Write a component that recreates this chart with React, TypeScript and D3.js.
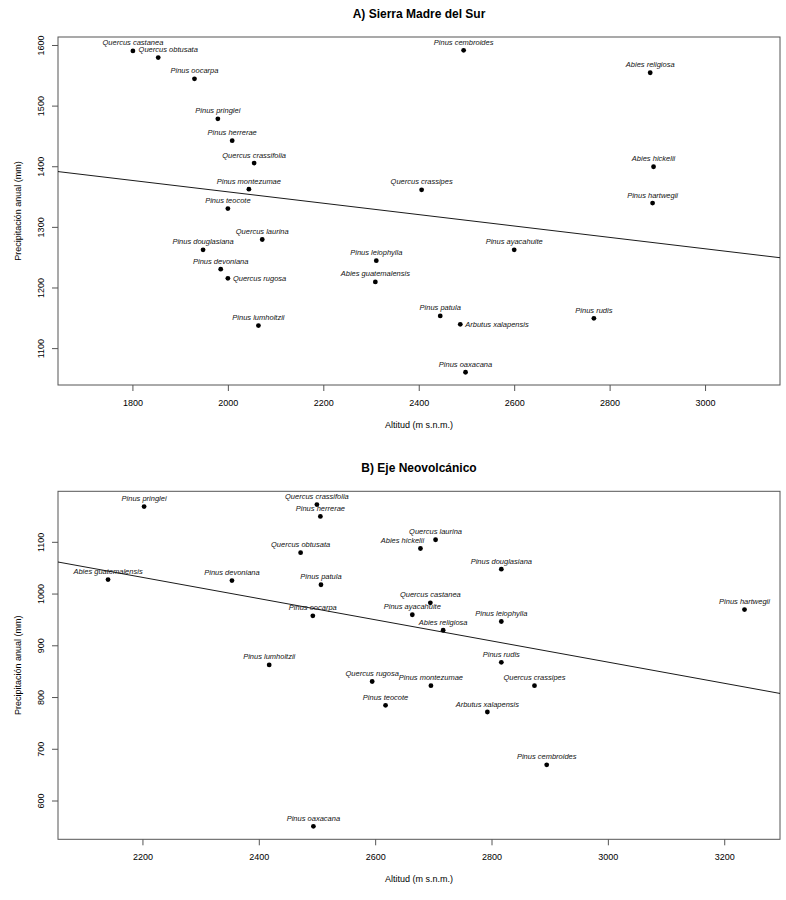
import React from 'react';
import * as d3 from 'd3';

// A) Sierra Madre del Sur
const sierraSpecies = [
  'Quercus castanea', 'Quercus obtusata', 'Pinus oocarpa', 'Pinus pringlei', 'Pinus herrerae',
  'Quercus crassifolia', 'Pinus montezumae', 'Pinus teocote', 'Quercus laurina', 'Pinus douglasiana',
  'Pinus devoniana', 'Quercus rugosa', 'Pinus lumholtzii', 'Pinus leiophylla', 'Abies guatemalensis',
  'Pinus patula', 'Arbutus xalapensis', 'Pinus oaxacana', 'Pinus ayacahuite', 'Pinus rudis',
  'Pinus cembroides', 'Abies religiosa', 'Quercus crassipes', 'Abies hickelii', 'Pinus hartwegii',
];
const sierraAltitud = [
  1800, 1853, 1929, 1978, 2008, 2054, 2043, 1999, 2071, 1947, 1984, 1999, 2063, 2310, 2308,
  2444, 2486, 2497, 2599, 2766, 2493, 2884, 2405, 2891, 2889,
];
const sierraPrecip = [
  1591, 1580, 1545, 1479, 1443, 1406, 1363, 1331, 1280, 1263, 1231, 1216, 1138, 1245, 1210,
  1154, 1140, 1061, 1263, 1150, 1592, 1555, 1362, 1400, 1340,
];
const sierraXTicks = [1800, 2000, 2200, 2400, 2600, 2800, 3000];
const sierraYTicks = [1100, 1200, 1300, 1400, 1500, 1600];
const sierraLm = { intercept: 1546.3, slope: -0.0939 };

// B) Eje Neovolcánico
const ejeSpecies = [
  'Pinus pringlei', 'Quercus crassifolia', 'Pinus herrerae', 'Quercus obtusata', 'Abies guatemalensis',
  'Pinus devoniana', 'Pinus patula', 'Pinus oocarpa', 'Pinus lumholtzii', 'Quercus rugosa',
  'Pinus teocote', 'Pinus oaxacana', 'Quercus laurina', 'Abies hickelii', 'Pinus douglasiana',
  'Quercus castanea', 'Pinus ayacahuite', 'Abies religiosa', 'Pinus leiophylla', 'Pinus rudis',
  'Pinus hartwegii', 'Pinus montezumae', 'Quercus crassipes', 'Arbutus xalapensis', 'Pinus cembroides',
];
const ejeAltitud = [
  2202, 2499, 2505, 2471, 2140, 2353, 2506, 2492, 2417, 2594, 2617, 2493, 2703, 2677, 2816,
  2694, 2663, 2716, 2816, 2816, 3234, 2695, 2873, 2792, 2894,
];
const ejePrecip = [
  1169, 1173, 1150, 1080, 1028, 1026, 1018, 958, 863, 831, 785, 551, 1105, 1088, 1048,
  983, 960, 930, 947, 868, 970, 823, 823, 772, 670,
];
const ejeXTicks = [2200, 2400, 2600, 2800, 3000, 3200];
const ejeYTicks = [600, 700, 800, 900, 1000, 1100];
const ejeLm = { intercept: 1482.4, slope: -0.2047 };

// labels sit above the point unless listed here
const sierraLabelPos: Record<string, { pos: string; dx?: number }> = {
  'Quercus obtusata': { pos: 'top', dx: 10 },
  'Quercus rugosa': { pos: 'right' },
  'Arbutus xalapensis': { pos: 'right' },
};
const ejeLabelPos: Record<string, { pos: string; dx?: number }> = {
  'Abies hickelii': { pos: 'top', dx: -18 },
};

const font = '"Liberation Sans", Arial, sans-serif';

interface PanelProps {
  top: number;
  title: string;
  species: string[];
  altitud: number[];
  precip: number[];
  xDomain: [number, number];
  yDomain: [number, number];
  xTicks: number[];
  yTicks: number[];
  lm: { intercept: number; slope: number };
  labelPos: Record<string, { pos: string; dx?: number }>;
}

const Panel = ({ top, title, species, altitud, precip, xDomain, yDomain, xTicks, yTicks, lm, labelPos }: PanelProps) => {
  const left = 58;
  const right = 780;
  const h = 348;
  const x = d3.scaleLinear().domain(xDomain).range([left, right]);
  const y = d3.scaleLinear().domain(yDomain).range([top + h, top]);

  const line = d3
    .line<number>()
    .x((d) => x(d))
    .y((d) => y(lm.intercept + lm.slope * d));

  return (
    <g>
      <text x={(left + right) / 2} y={top - 19} textAnchor="middle" fontFamily={font} fontWeight="bold" fontSize={12}>
        {title}
      </text>
      <rect x={left} y={top} width={right - left} height={h} fill="none" stroke="#555" strokeWidth={1} />
      {xTicks.map((t) => (
        <g key={t}>
          <line x1={x(t)} x2={x(t)} y1={top + h} y2={top + h + 6} stroke="#555" />
          <text x={x(t)} y={top + h + 21} textAnchor="middle" fontFamily={font} fontSize={9}>
            {t}
          </text>
        </g>
      ))}
      {yTicks.map((t) => (
        <g key={t}>
          <line x1={left - 6} x2={left} y1={y(t)} y2={y(t)} stroke="#555" />
          <text
            transform={`translate(${left - 14},${y(t)}) rotate(-90)`}
            textAnchor="middle"
            fontFamily={font}
            fontSize={9}
          >
            {t}
          </text>
        </g>
      ))}
      <text x={(left + right) / 2} y={top + h + 43} textAnchor="middle" fontFamily={font} fontSize={9}>
        Altitud (m s.n.m.)
      </text>
      <text
        transform={`translate(21,${top + h / 2}) rotate(-90)`}
        textAnchor="middle"
        fontFamily={font}
        fontSize={9}
      >
        Precipitación anual (mm)
      </text>
      <path d={line(xDomain) || ''} stroke="#000" strokeWidth={0.9} fill="none" />
      {species.map((s, i) => {
        const px = x(altitud[i]);
        const py = y(precip[i]);
        const lp = labelPos[s] || { pos: 'top' };
        const isRight = lp.pos === 'right';
        return (
          <g key={s}>
            <circle cx={px} cy={py} r={2.4} fill="#000" />
            <text
              x={isRight ? px + 5 : px + (lp.dx || 0)}
              y={isRight ? py + 2.5 : py - 5.5}
              textAnchor={isRight ? 'start' : 'middle'}
              fontFamily={font}
              fontStyle="italic"
              fontSize={7.5}
              fill="#111"
            >
              {s}
            </text>
          </g>
        );
      })}
    </g>
  );
};

export default function App() {
  return (
    <svg
      width={786}
      height={900}
      style={{ position: 'absolute', left: 0, top: 0, background: '#fff' }}
    >
      <rect width={786} height={900} fill="#fff" />
      <Panel
        top={37}
        title="A) Sierra Madre del Sur"
        species={sierraSpecies}
        altitud={sierraAltitud}
        precip={sierraPrecip}
        xDomain={[1643, 3156]}
        yDomain={[1040, 1614]}
        xTicks={sierraXTicks}
        yTicks={sierraYTicks}
        lm={sierraLm}
        labelPos={sierraLabelPos}
      />
      <Panel
        top={491.3}
        title="B) Eje Neovolcánico"
        species={ejeSpecies}
        altitud={ejeAltitud}
        precip={ejePrecip}
        xDomain={[2054, 3295]}
        yDomain={[526, 1198.6]}
        xTicks={ejeXTicks}
        yTicks={ejeYTicks}
        lm={ejeLm}
        labelPos={ejeLabelPos}
      />
    </svg>
  );
}
